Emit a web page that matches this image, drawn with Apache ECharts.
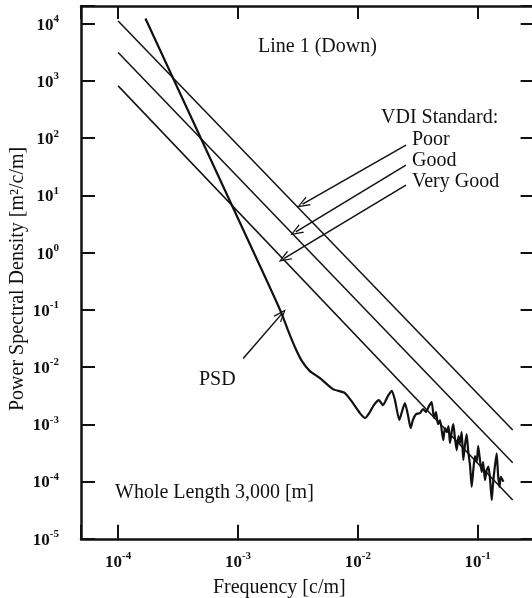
<!DOCTYPE html>
<html><head><meta charset="utf-8">
<script src="https://cdn.jsdelivr.net/npm/echarts@6/dist/echarts.min.js"></script>
<style>html,body{margin:0;padding:0;background:#fff}#c{width:532px;height:598px}</style>
</head><body><div id="c"></div>
<script>
// ---- data ----
const psdFreq = [1.69e-4, 1.68e-3, 2.31e-3, 2.61e-3, 2.99e-3, 3.42e-3, 3.98e-3, 4.83e-3, 6.20e-3, 7.80e-3,
  9.10e-3, 1.04e-2, 1.15e-2, 1.26e-2, 1.36e-2, 1.50e-2, 1.62e-2, 1.78e-2, 1.92e-2, 2.04e-2,
  2.22e-2, 2.33e-2, 2.47e-2, 2.62e-2, 2.76e-2, 2.88e-2, 3.06e-2, 3.30e-2, 3.50e-2, 3.70e-2,
  3.92e-2, 4.13e-2, 4.32e-2, 4.49e-2, 4.66e-2, 4.85e-2, 5.16e-2, 5.33e-2, 5.51e-2, 5.71e-2,
  5.87e-2, 6.10e-2, 6.26e-2, 6.46e-2, 6.68e-2, 6.92e-2, 7.12e-2, 7.35e-2, 7.58e-2, 7.83e-2,
  8.09e-2, 8.35e-2, 8.63e-2, 8.91e-2, 9.19e-2, 9.49e-2, 9.81e-2, 0.101, 0.105, 0.108,
  0.111, 0.115, 0.119, 0.123, 0.127, 0.131, 0.134, 0.138, 0.144, 0.148,
  0.152, 0.156, 0.164];
const psdValue = [1.23e4, 0.378, 8.67e-2, 4.43e-2, 2.23e-2, 1.27e-2, 8.51e-3, 6.43e-3, 4.13e-3, 3.52e-3,
  2.35e-3, 1.57e-3, 1.29e-3, 1.64e-3, 2.17e-3, 2.65e-3, 2.17e-3, 3.11e-3, 3.85e-3, 2.65e-3,
  1.19e-3, 1.64e-3, 2.35e-3, 1.45e-3, 8.59e-4, 1.19e-3, 1.51e-3, 1.57e-3, 1.85e-3, 1.64e-3,
  2.08e-3, 2.45e-3, 1.29e-3, 1.64e-3, 1.01e-3, 1.19e-3, 5.31e-4, 8.59e-4, 7.33e-4, 9.31e-4,
  4.70e-4, 7.94e-4, 1.01e-3, 5.75e-4, 3.55e-4, 6.24e-4, 4.70e-4, 7.33e-4, 2.38e-4, 4.35e-4,
  6.76e-4, 3.27e-4, 1.94e-4, 8.11e-5, 1.59e-4, 2.79e-4, 2.19e-4, 4.17e-4, 2.19e-4, 1.47e-4,
  2.19e-4, 1.06e-4, 1.59e-4, 1.82e-4, 1.06e-4, 4.75e-5, 8.69e-5, 1.59e-4, 3.11e-4, 1.30e-4,
  8.11e-5, 1.21e-4, 9.93e-5];

const vdiFreq = [1e-4, 0.196];
const vdiPoor = [1.12e4, 7.94e-4];
const vdiGood = [3.14e3, 2.13e-4];
const vdiVeryGood = [8.20e2, 4.75e-5];

// annotation arrows: [start, tip] as [frequency, PSD]
const arrowPoor = [[2.52e-2, 75.5], [3.46e-3, 7.03]];
const arrowGood = [[2.52e-2, 33.7], [3.04e-3, 2.31]];
const arrowVeryGood = [[2.52e-2, 15.1], [2.43e-3, 0.792]];
const arrowPSD = [[1.105e-3, 1.42e-2], [2.31e-3, 8.43e-2]];

const xRange = [4.9e-5, 0.3162];
const yRange = [1e-5, 2.04e4];

const titleText = 'Line 1 (Down)';
const legendTitle = 'VDI Standard:';
const legendItems = ['Poor', 'Good', 'Very Good'];
const psdText = 'PSD';
const noteText = 'Whole Length 3,000 [m]';
const xName = 'Frequency [c/m]';
const yName = 'Power Spectral Density [m\u00B2/c/m]';

// ---- chart ----
const FONT = '"Liberation Serif", "Times New Roman", serif';
const INK = '#111';
const pairs = (xs, ys) => xs.map((x, i) => [x, ys[i]]);

function powLabel(v) {
  const e = Math.log10(v);
  const r = Math.round(e);
  if (Math.abs(e - r) > 0.02) return '';
  return '{b|10}{s|' + r + '}';
}
const labelRich = {
  b: {fontFamily: FONT, fontSize: 17, fontWeight: 'bold', color: INK, lineHeight: 20, verticalAlign: 'bottom'},
  s: {fontFamily: FONT, fontSize: 11, fontWeight: 'bold', color: INK, lineHeight: 20, verticalAlign: 'top'}
};
const axisLineStyle = {color: INK, width: 2.5};
const tickStyle = {color: INK, width: 2};

const chevron = 'path://M5,0 L10,12 L8.6,12 L5,3 L1.4,12 L0,12 Z';
const arrowData = [arrowPoor, arrowGood, arrowVeryGood, arrowPSD].map(a => [{coord: a[0]}, {coord: a[1]}]);

const chart = echarts.init(document.getElementById('c'), null, {renderer: 'canvas'});
const lineBase = {type: 'line', showSymbol: false, symbol: 'none', animation: false, silent: true,
  emphasis: {disabled: true}};

chart.setOption({
  backgroundColor: '#fff',
  animation: false,
  grid: {left: 81, top: 6, width: 456.6, height: 532.8, containLabel: false, outerBoundsMode: 'none'},
  xAxis: [
    {type: 'log', position: 'bottom', min: xRange[0], max: xRange[1], splitNumber: 5,
      name: xName, nameLocation: 'middle', nameGap: 39, nameMoveOverlap: false,
      nameTextStyle: {fontFamily: FONT, fontSize: 20, color: INK, padding: [0, 60, 0, 0]},
      axisLine: {lineStyle: axisLineStyle}, axisTick: {inside: true, length: 14, lineStyle: tickStyle},
      axisLabel: {margin: 12, formatter: powLabel, rich: labelRich},
      splitLine: {show: false}, minorTick: {show: false}},
    {type: 'log', position: 'top', min: xRange[0], max: xRange[1], splitNumber: 5,
      axisLine: {lineStyle: axisLineStyle}, axisTick: {inside: true, length: 13, lineStyle: tickStyle},
      axisLabel: {show: false}, splitLine: {show: false}}
  ],
  yAxis: [
    {type: 'log', position: 'left', min: yRange[0], max: yRange[1], splitNumber: 10,
      name: yName, nameLocation: 'middle', nameGap: 53, nameMoveOverlap: false,
      nameTextStyle: {fontFamily: FONT, fontSize: 20, color: INK, padding: [0, 13, 0, 0]},
      axisLine: {lineStyle: axisLineStyle}, axisTick: {inside: true, length: 14, lineStyle: tickStyle},
      axisLabel: {margin: 22, formatter: powLabel, rich: labelRich},
      splitLine: {show: false}, minorTick: {show: false}},
    {type: 'log', position: 'right', min: yRange[0], max: yRange[1], splitNumber: 10,
      axisLine: {lineStyle: axisLineStyle}, axisTick: {inside: true, length: 17, lineStyle: tickStyle},
      axisLabel: {show: false}, splitLine: {show: false}}
  ],
  series: [
    Object.assign({}, lineBase, {name: 'Poor', data: pairs(vdiFreq, vdiPoor),
      lineStyle: {color: INK, width: 1.5},
      markLine: {silent: true, animation: false, symbol: ['none', chevron], symbolSize: [10, 13],
        lineStyle: {color: INK, width: 1.5, type: 'solid'}, label: {show: false},
        emphasis: {disabled: true}, data: arrowData}}),
    Object.assign({}, lineBase, {name: 'Good', data: pairs(vdiFreq, vdiGood), lineStyle: {color: INK, width: 1.5}}),
    Object.assign({}, lineBase, {name: 'Very Good', data: pairs(vdiFreq, vdiVeryGood), lineStyle: {color: INK, width: 1.5}}),
    Object.assign({}, lineBase, {name: 'PSD', data: pairs(psdFreq, psdValue), smooth: 0.2,
      lineStyle: {color: INK, width: 2.2}})
  ],
  graphic: [
    {type: 'text', x: 258, y: 47, style: {text: titleText, font: '20px ' + FONT, fill: INK, verticalAlign: 'middle'}},
    {type: 'text', x: 381, y: 118, style: {text: legendTitle, font: '20px ' + FONT, fill: INK, verticalAlign: 'middle'}},
    {type: 'text', x: 412, y: 139.5, style: {text: legendItems[0], font: '20px ' + FONT, fill: INK, verticalAlign: 'middle'}},
    {type: 'text', x: 412, y: 160.5, style: {text: legendItems[1], font: '20px ' + FONT, fill: INK, verticalAlign: 'middle'}},
    {type: 'text', x: 412, y: 181.5, style: {text: legendItems[2], font: '20px ' + FONT, fill: INK, verticalAlign: 'middle'}},
    {type: 'text', x: 199, y: 379.5, style: {text: psdText, font: '20px ' + FONT, fill: INK, verticalAlign: 'middle'}},
    {type: 'text', x: 115, y: 492.5, style: {text: noteText, font: '20px ' + FONT, fill: INK, verticalAlign: 'middle'}}
  ]
});
</script></body></html>
